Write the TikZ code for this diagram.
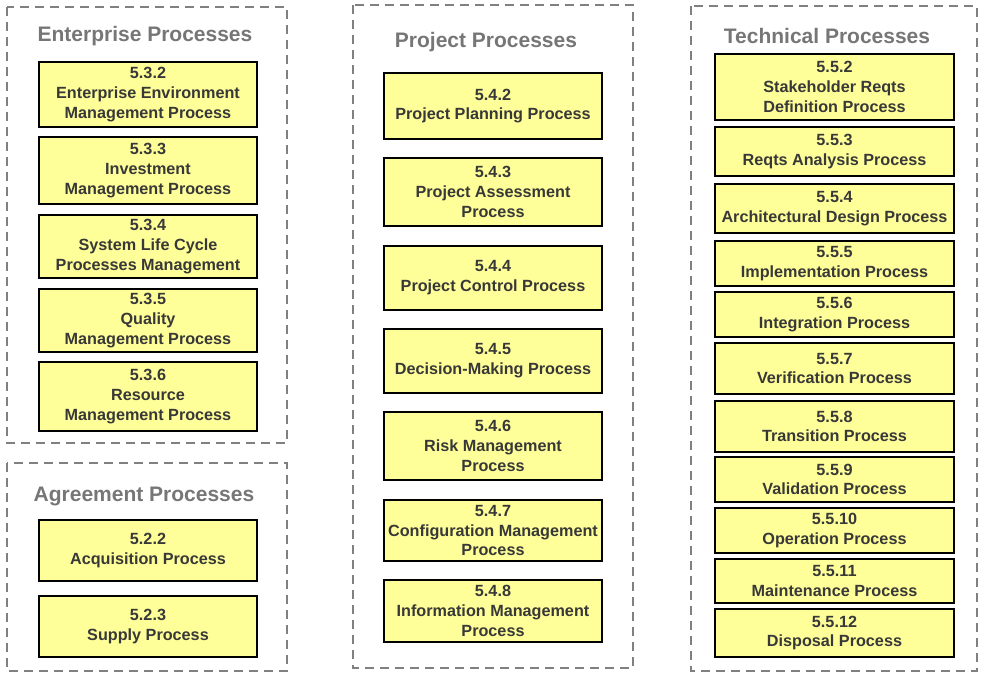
\documentclass[tikz,border=0pt]{standalone}
\usepackage{fontspec}
\setmainfont{Liberation Sans}
\usetikzlibrary{positioning}
\definecolor{procfill}{HTML}{FFFF99}
\definecolor{proctext}{HTML}{383838}
\definecolor{grpgray}{HTML}{808080}
\definecolor{titlegray}{HTML}{767676}
\begin{document}
\begin{tikzpicture}[x=1pt,y=-1pt,
  proc/.style={draw=black,line width=1.5pt,fill=procfill,text=proctext,align=center,
    font=\bfseries\fontsize{16.2}{19.8}\selectfont,inner sep=0pt},
  grp/.style={draw=grpgray,line width=2pt,dash pattern=on 9pt off 6pt},
  grptitle/.style={text=titlegray,font=\bfseries\fontsize{21}{24}\selectfont}]
\useasboundingbox (0,0) rectangle (983,678);
% groups
\draw [grp] (7,7) rectangle (287,443);
\draw [grp] (7,463) rectangle (287,671);
\draw [grp] (353,5) rectangle (633,668);
\draw [grp] (691,6) rectangle (977,671);
\node[grptitle] (tEnt) at (145,36) {Enterprise Processes};
\node[grptitle] (tAgr) at (144,496) {Agreement Processes};
\node[grptitle] (tPrj) at (486,42) {Project Processes};
\node[grptitle] (tTec) at (827,36) {Technical Processes};
% enterprise
\node[proc,minimum width=218,minimum height=65] (e532) at (148,94.5) {5.3.2\\Enterprise Environment\\Management Process};
\node[proc,minimum width=218,minimum height=67] (e533) at (148,170.5) {5.3.3\\Investment\\Management Process};
\node[proc,minimum width=218,minimum height=63] (e534) at (148,246.5) {5.3.4\\System Life Cycle\\Processes Management};
\node[proc,minimum width=218,minimum height=63] (e535) at (148,320.5) {5.3.5\\Quality\\Management Process};
\node[proc,minimum width=218,minimum height=69] (e536) at (148,396.5) {5.3.6\\Resource\\Management Process};
% agreement
\node[proc,minimum width=218,minimum height=61] (a522) at (148,550.5) {5.2.2\\Acquisition Process};
\node[proc,minimum width=218,minimum height=61] (a523) at (148,626.5) {5.2.3\\Supply Process};
% project
\node[proc,minimum width=218,minimum height=66] (p542) at (493,106) {5.4.2\\Project Planning Process};
\node[proc,minimum width=218,minimum height=68] (p543) at (493,192) {5.4.3\\Project Assessment\\Process};
\node[proc,minimum width=218,minimum height=64] (p544) at (493,278) {5.4.4\\Project Control Process};
\node[proc,minimum width=218,minimum height=64] (p545) at (493,361) {5.4.5\\Decision-Making Process};
\node[proc,minimum width=218,minimum height=68] (p546) at (493,446) {5.4.6\\Risk Management\\Process};
\node[proc,minimum width=218,minimum height=61] (p547) at (493,530.5) {5.4.7\\Configuration Management\\Process};
\node[proc,minimum width=218,minimum height=62] (p548) at (493,611) {5.4.8\\Information Management\\Process};
% technical
\node[proc,minimum width=239,minimum height=66] (t552) at (834.5,87) {5.5.2\\Stakeholder Reqts\\Definition Process};
\node[proc,minimum width=239,minimum height=49] (t553) at (834.5,151.5) {5.5.3\\Reqts Analysis Process};
\node[proc,minimum width=239,minimum height=49] (t554) at (834.5,208.5) {5.5.4\\Architectural Design Process};
\node[proc,minimum width=239,minimum height=45] (t555) at (834.5,263.5) {5.5.5\\Implementation Process};
\node[proc,minimum width=239,minimum height=45] (t556) at (834.5,314.5) {5.5.6\\Integration Process};
\node[proc,minimum width=239,minimum height=51] (t557) at (834.5,368.5) {5.5.7\\Verification Process};
\node[proc,minimum width=239,minimum height=51] (t558) at (834.5,426.5) {5.5.8\\Transition Process};
\node[proc,minimum width=239,minimum height=45] (t559) at (834.5,479.5) {5.5.9\\Validation Process};
\node[proc,minimum width=239,minimum height=45] (t5510) at (834.5,530.5) {5.5.10\\Operation Process};
\node[proc,minimum width=239,minimum height=44] (t5511) at (834.5,581) {5.5.11\\Maintenance Process};
\node[proc,minimum width=239,minimum height=48] (t5512) at (834.5,633) {5.5.12\\Disposal Process};
\end{tikzpicture}
\end{document}
